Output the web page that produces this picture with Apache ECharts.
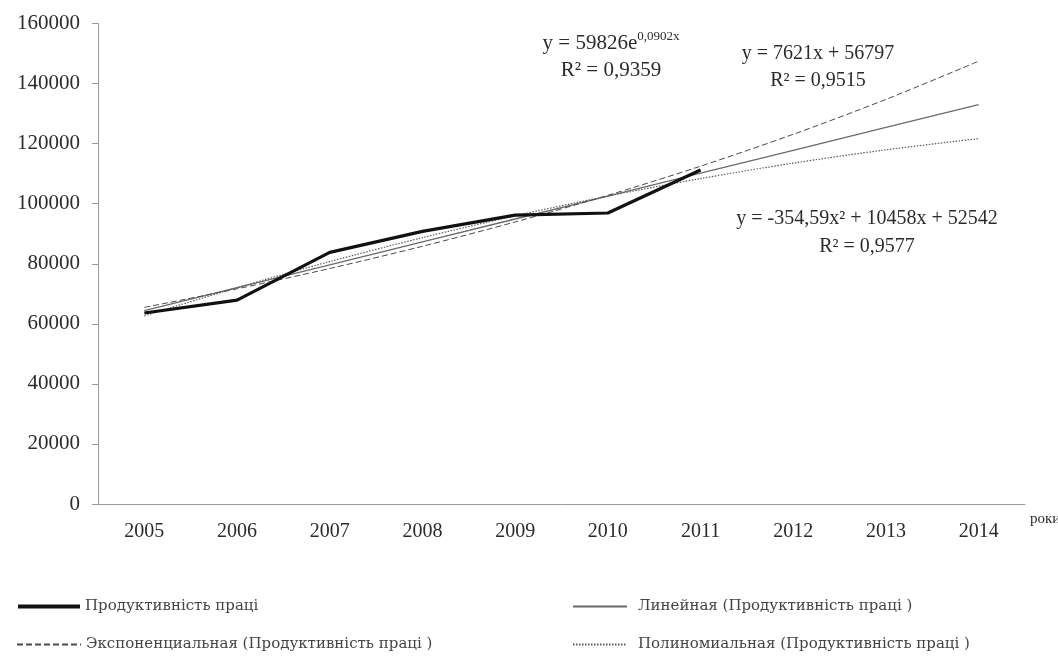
<!DOCTYPE html>
<html>
<head>
<meta charset="utf-8">
<script src="https://cdn.jsdelivr.net/npm/echarts@6/dist/echarts.min.js"></script>
<style>
  html, body { margin: 0; padding: 0; background: #fff; }
  #chart { width: 1058px; height: 661px; }
</style>
</head>
<body>
<div id="chart"></div>
<script>
// Years on the category axis
const years = ['2005', '2006', '2007', '2008', '2009', '2010', '2011', '2012', '2013', '2014'];
// Labour productivity, observed values
const productivity = [63600, 67900, 83800, 90800, 96200, 96900, 111200, null, null, null];
// Trend values per year (x = 1..10) from the fitted equations
const linearTrend = [64418, 72039, 79660, 87281, 94902, 102523, 110144, 117765, 125386, 133007];
const expTrend = [65473, 71653, 78416, 85820, 93921, 102788, 112490, 123109, 134728, 147439];
const polyTrend = [62645, 72040, 80725, 88701, 95967, 102525, 108373, 113512, 117942, 121663];
// Series names
const names = [
  'Продуктивність праці',
  'Линейная (Продуктивність праці )',
  'Экспоненциальная (Продуктивність праці )',
  'Полиномиальная (Продуктивність праці )'
];

const serif = '"Liberation Serif", "Times New Roman", serif';
const legendFont = '"DejaVu Serif", "Liberation Serif", serif';
const textColor = '#2b2b2b';
const axisColor = '#9a9a9a';

const chart = echarts.init(document.getElementById('chart'), null, { renderer: 'canvas' });

function legendAt(name, left, top, width, gap, extra) {
  return Object.assign({
    data: [name],
    left: left,
    top: top,
    itemWidth: width,
    itemHeight: 14,
    selectedMode: false,
    itemStyle: { opacity: 0 },
    textStyle: { fontFamily: legendFont, fontSize: 15, color: '#444', padding: [0, 0, 0, gap] }
  }, extra || {});
}

chart.setOption({
  animation: false,
  grid: { left: 98, top: 23.5, right: 33, bottom: 157, containLabel: false, outerBoundsMode: 'none' },
  legend: [
    // thick black bar for the observed series
    legendAt(names[0], 13, 594, 62, 0, {
      icon: 'rect', itemHeight: 4,
      itemStyle: { color: '#111', opacity: 1 }
    }),
    legendAt(names[1], 567, 594, 54, 6),
    legendAt(names[2], 11, 632, 64, 0),
    legendAt(names[3], 567, 632, 54, 6)
  ],
  xAxis: {
    type: 'category',
    data: years,
    boundaryGap: true,
    name: 'роки',
    nameLocation: 'end',
    nameGap: 5,
    nameTextStyle: { fontFamily: serif, fontSize: 15, color: textColor, verticalAlign: 'top', padding: [8, 0, 0, 0] },
    axisLine: { lineStyle: { color: axisColor, width: 1 } },
    axisTick: { show: false },
    axisLabel: { fontFamily: serif, fontSize: 20, color: textColor, margin: 18 },
    splitLine: { show: false }
  },
  yAxis: {
    type: 'value',
    min: 0,
    max: 160000,
    interval: 20000,
    axisLine: { show: true, lineStyle: { color: axisColor, width: 1 } },
    axisTick: { show: true, length: 6, lineStyle: { color: axisColor } },
    axisLabel: { fontFamily: serif, fontSize: 21, color: textColor, margin: 18, formatter: v => String(v) },
    splitLine: { show: false }
  },
  series: [
    {
      name: names[0], type: 'line', data: productivity, symbol: 'none', z: 5,
      lineStyle: { color: '#111', width: 3.2 }, itemStyle: { color: '#111' }
    },
    {
      name: names[1], type: 'line', data: linearTrend, symbol: 'none', z: 3,
      lineStyle: { color: '#6a6a6a', width: 1.3 }, itemStyle: { color: '#6a6a6a' }
    },
    {
      name: names[2], type: 'line', data: expTrend, symbol: 'none', smooth: 0.3, z: 3,
      lineStyle: { color: '#4a4a4a', width: 1, type: [6, 3] }, itemStyle: { color: '#4a4a4a' }
    },
    {
      name: names[3], type: 'line', data: polyTrend, symbol: 'none', smooth: 0.3, z: 3,
      lineStyle: { color: '#5a5a5a', width: 1.2, type: [1.5, 1.5] }, itemStyle: { color: '#5a5a5a' }
    }
  ],
  graphic: [
    {
      type: 'text', x: 611, y: 30,
      style: {
        text: 'y = 59826e{sup|0,0902x}\nR² = 0,9359',
        fontFamily: serif, fontSize: 21, fill: textColor, align: 'center', lineHeight: 27,
        rich: { sup: { fontFamily: serif, fontSize: 13, fill: textColor, verticalAlign: 'top', lineHeight: 14 } }
      }
    },
    {
      type: 'text', x: 818, y: 40,
      style: {
        text: 'y = 7621x + 56797\nR² = 0,9515',
        fontFamily: serif, fontSize: 20, fill: textColor, align: 'center', lineHeight: 27
      }
    },
    {
      type: 'text', x: 867, y: 205,
      style: {
        text: 'y = -354,59x² + 10458x + 52542\nR² = 0,9577',
        fontFamily: serif, fontSize: 20, fill: textColor, align: 'center', lineHeight: 28
      }
    }
  ]
});
</script>
</body>
</html>
